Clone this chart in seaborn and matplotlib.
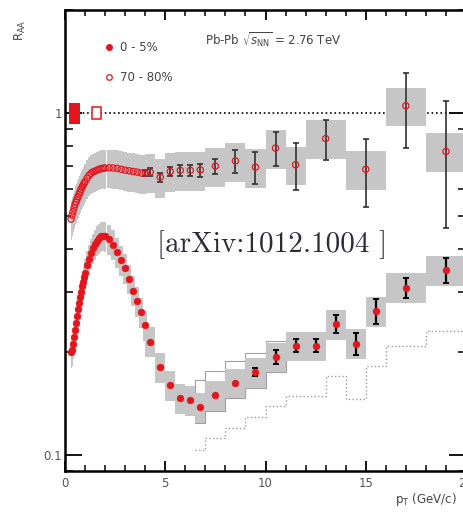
import numpy as np
import pandas as pd
import matplotlib
matplotlib.use("Agg")
import matplotlib.pyplot as plt
import seaborn as sns
from matplotlib.lines import Line2D

# 0-5% central
pt_c = [0.3, 0.35, 0.4, 0.45, 0.5, 0.55, 0.6, 0.65, 0.7, 0.75, 0.8, 0.85, 0.9, 0.95,
        1.0, 1.1, 1.2, 1.3, 1.4, 1.5, 1.6, 1.7, 1.8, 1.9, 2.0,
        2.2, 2.4, 2.6, 2.8, 3.0, 3.2, 3.4, 3.6, 3.8, 4.0,
        4.25, 4.75, 5.25, 5.75, 6.25, 6.75,
        7.5, 8.5, 9.5, 10.5, 11.5, 12.5, 13.5, 14.5, 15.5, 17, 19]
raa_c = [0.200, 0.203, 0.212, 0.222, 0.233, 0.244, 0.255, 0.267, 0.278, 0.290, 0.301, 0.312,
         0.322, 0.332,
         0.341, 0.359, 0.375, 0.390, 0.403, 0.414, 0.424, 0.431, 0.436, 0.438, 0.437,
         0.428, 0.413, 0.392, 0.372, 0.352, 0.328, 0.303, 0.282, 0.262, 0.240,
         0.215, 0.181, 0.160, 0.147, 0.145, 0.138,
         0.150, 0.163, 0.175, 0.194, 0.209, 0.209, 0.242, 0.212, 0.264, 0.309, 0.348]
bw_c = [0.05] * 14 + [0.1] * 11 + [0.2] * 10 + [0.5] * 6 + [1.0] * 9 + [2.0] * 2
stat_pt_c = [9.5, 10.5, 11.5, 12.5, 13.5, 14.5, 15.5, 17, 19]
stat_c = [0.005, 0.009, 0.009, 0.009, 0.015, 0.016, 0.022, 0.021, 0.029]
sys_c = 0.10

# pp reference uncertainty (upper side) for central
ref_pt = [6.75, 7.5, 8.5, 9.5, 10.5]
ref_bw = [0.5, 1.0, 1.0, 1.0, 1.0]
ref_top = [1.20, 1.175, 1.16, 1.14, 1.11]

# 70-80% peripheral
pt_p = [0.3, 0.35, 0.4, 0.45, 0.5, 0.55, 0.6, 0.65, 0.7, 0.75, 0.8, 0.85, 0.9, 0.95,
        1.0, 1.1, 1.2, 1.3, 1.4, 1.5, 1.6, 1.7, 1.8, 1.9, 2.0,
        2.2, 2.4, 2.6, 2.8, 3.0, 3.2, 3.4, 3.6, 3.8, 4.0,
        4.25, 4.75, 5.25, 5.75, 6.25, 6.75,
        7.5, 8.5, 9.5, 10.5, 11.5, 13, 15, 17, 19]
raa_p = [0.490, 0.503, 0.515, 0.528, 0.540, 0.550, 0.560, 0.569, 0.578, 0.588, 0.598, 0.607,
         0.615, 0.623,
         0.630, 0.645, 0.658, 0.667, 0.673, 0.677, 0.681, 0.685, 0.688, 0.690, 0.691,
         0.692, 0.691, 0.689, 0.685, 0.681, 0.678, 0.675, 0.672, 0.668, 0.668,
         0.672, 0.650, 0.675, 0.680, 0.680, 0.682,
         0.700, 0.725, 0.695, 0.790, 0.706, 0.842, 0.685, 1.050, 0.772]
bw_p = [0.05] * 14 + [0.1] * 11 + [0.2] * 10 + [0.5] * 6 + [1.0] * 5 + [2.0] * 4
stat_pt_p = [4.0, 4.25, 4.75, 5.25, 5.75, 6.25, 6.75, 7.5, 8.5, 9.5, 10.5, 11.5, 13, 15, 17, 19]
stat_p = [0.015, 0.018, 0.020, 0.022, 0.024, 0.027, 0.030, 0.036, 0.055, 0.074, 0.089, 0.110,
          0.114, 0.152, 0.26, 0.31]
sys_p = 0.13

# dotted step curve
step_edges = [6.5, 7, 8, 9, 10, 11, 13, 14, 15, 16, 18, 20]
step_vals = [0.104, 0.112, 0.120, 0.129, 0.139, 0.149, 0.170, 0.146, 0.183, 0.209, 0.231]

norm_c = 0.07
norm_p = 0.04

sns.set_theme(style="ticks")
plt.rcParams['font.family'] = ['DejaVu Sans']
plt.rcParams['mathtext.fontset'] = 'dejavusans'

fig = plt.figure(figsize=(4.63, 5.12), dpi=100)
ax = fig.add_axes([65 / 463, 41 / 512, 401 / 463, 461 / 512])
ax.set_yscale('log')

gray = '#c6c6c6'
red = '#e3161e'
txt = '#444444'

dc = pd.DataFrame({'pt': pt_c, 'raa': raa_c, 'bw': bw_c})
dp = pd.DataFrame({'pt': pt_p, 'raa': raa_p, 'bw': bw_p})

ax.axhline(1.0, color='black', ls=':', lw=1.2, zorder=1)

# reference boxes (open)
ref_y = [dc.loc[dc.pt == p, 'raa'].iloc[0] for p in ref_pt]
ax.bar(ref_pt, [y * (t - 1 + sys_c) for y, t in zip(ref_y, ref_top)], width=ref_bw,
       bottom=[y * (1 - sys_c) for y in ref_y], facecolor='white', edgecolor='#a0a0a0',
       linewidth=0.8, zorder=1.5)

# systematic boxes
ax.bar(dp.pt, dp.raa * 2 * sys_p, width=dp.bw, bottom=dp.raa * (1 - sys_p),
       color=gray, linewidth=0, zorder=2)
ax.bar(dc.pt, dc.raa * 2 * sys_c, width=dc.bw, bottom=dc.raa * (1 - sys_c),
       color=gray, linewidth=0, zorder=2)

ax.stairs(step_vals, step_edges, color='#9a9a9a', ls=':', lw=1.0, baseline=None, zorder=2.5)

# stat errors
ax.errorbar(stat_pt_p, [raa_p[pt_p.index(p)] for p in stat_pt_p], yerr=stat_p, fmt='none',
            ecolor='#303030', elinewidth=1.2, capsize=2.5, capthick=1.2, zorder=3)
ax.errorbar(stat_pt_c, [raa_c[pt_c.index(p)] for p in stat_pt_c], yerr=stat_c, fmt='none',
            ecolor='black', elinewidth=1.6, capsize=2.5, capthick=1.4, zorder=3)

sns.scatterplot(data=dp, x='pt', y='raa', ax=ax, marker='o', s=20, facecolor='none',
                edgecolor=red, linewidth=0.9, zorder=4, legend=False)
sns.scatterplot(data=dc, x='pt', y='raa', ax=ax, marker='o', s=25, color=red,
                edgecolor=red, linewidth=0.3, zorder=4, legend=False)

# normalisation boxes
ax.bar([0.475], [2 * norm_c], width=0.55, bottom=[1 - norm_c], color=red, linewidth=0, zorder=5)
ax.bar([1.57], [2 * norm_p], width=0.45, bottom=[1 - norm_p], facecolor='white',
       edgecolor=red, linewidth=1.1, zorder=5)

ax.set_xlim(0, 20)
ax.set_ylim(0.09, 2.0)
ax.set_xlabel('')
ax.set_ylabel('')
ax.set_xticks([0, 5, 10, 15, 20])
ax.set_xticks(np.arange(0, 21, 1), minor=True)
ax.set_yticks([0.1, 1])
ax.set_yticklabels(['0.1', '1'])
ax.tick_params(which='both', direction='in', top=True, right=True, labelsize=8.5,
               labelcolor='#555555', color='black')
ax.tick_params(which='major', axis='x', length=7, width=1.3, pad=4)
ax.tick_params(which='minor', axis='x', length=4, width=1.1)
ax.tick_params(which='major', axis='y', length=12, width=1.3, pad=2)
ax.tick_params(which='minor', axis='y', length=6, width=1.1)
ax.yaxis.set_minor_formatter(matplotlib.ticker.NullFormatter())
for sp in ax.spines.values():
    sp.set_linewidth(1.8)
    sp.set_color('black')

handles = [Line2D([], [], ls='none', marker='o', ms=4, color=red),
           Line2D([], [], ls='none', marker='o', ms=4, mfc='white', mec=red, mew=0.9)]
ax.legend(handles, ['0 - 5%', '70 - 80%'], loc='upper left', bbox_to_anchor=(0.082, 0.943),
          borderaxespad=0, frameon=False, fontsize=8.5, handlelength=1.0, handletextpad=0.5,
          labelspacing=1.45, labelcolor=txt)

ax.text(0.35, 0.935, r'Pb-Pb $\sqrt{s_{\mathrm{NN}}}$ = 2.76 TeV', transform=ax.transAxes,
        fontsize=8.5, color=txt, va='center', ha='left')
ax.text(10.35, 0.413, '[arXiv:1012.1004 ]', fontfamily='cmr10', fontsize=21,
        color='#2b2b3a', ha='center', va='center', zorder=6)

fig.text(20 / 463, 1 - 30 / 512, r'R$_{\mathrm{AA}}$', rotation=90, fontsize=8.5,
         color=txt, ha='center', va='center')
fig.text(395 / 463, 1 - 500 / 512, r'p$_{\mathrm{T}}$ (GeV/c)', fontsize=8.5,
         color=txt, ha='left', va='center')

fig.savefig('out.png', dpi=100)
